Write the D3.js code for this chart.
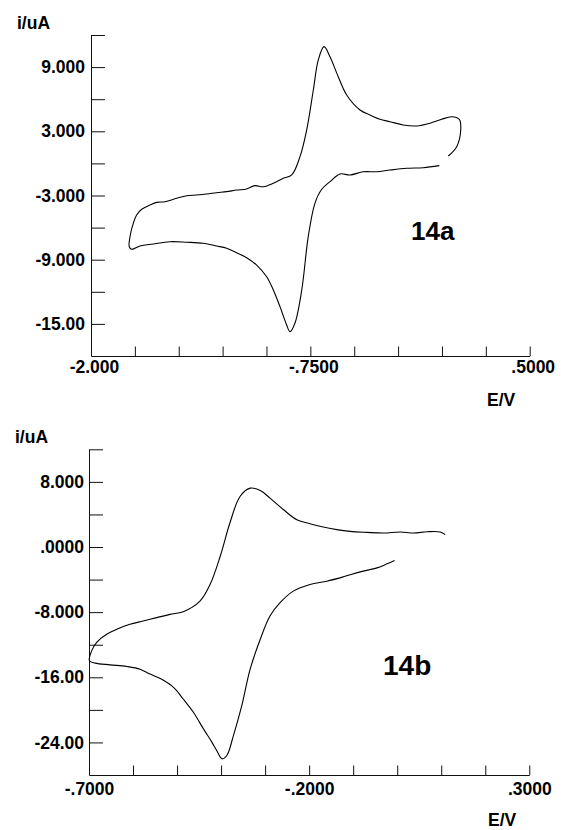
<!DOCTYPE html>
<html>
<head>
<meta charset="utf-8">
<script src="https://cdn.jsdelivr.net/npm/d3@7"></script>
<style>
  body { margin: 0; background: #fff; }
  svg text { font-family: "Liberation Sans", Arial, sans-serif; font-weight: bold; fill: #000; }
</style>
</head>
<body>
<svg id="chart" width="561" height="830"></svg>
<script>
// ---- 14a : potential (V) and current (uA), traced in scan order
var potentialA = [0.036, 0.084, 0.107, 0.099, 0.055, -0.002, -0.068, -0.144, -0.221, -0.296,
  -0.353, -0.410, -0.467, -0.543, -0.591, -0.638, -0.672, -0.705, -0.733, -0.771,
  -0.809, -0.856, -0.904, -0.961, -1.018, -1.066, -1.113, -1.170, -1.227, -1.284,
  -1.341, -1.398, -1.455, -1.512, -1.578, -1.626, -1.664, -1.711, -1.740, -1.759,
  -1.774, -1.782, -1.768, -1.721, -1.645, -1.550, -1.455, -1.360, -1.284, -1.227,
  -1.170, -1.113, -1.056, -0.999, -0.961, -0.923, -0.885, -0.866, -0.838, -0.799,
  -0.762, -0.724, -0.685, -0.638, -0.581, -0.524, -0.448, -0.372, -0.296, -0.201,
  -0.107, -0.015];
var currentA = [0.69, 1.56, 3.12, 4.12, 4.36, 4.12, 3.75, 3.50, 3.59, 3.90,
  4.12, 4.52, 4.99, 6.39, 8.10, 9.97, 10.91, 9.66, 6.86, 3.12,
  0.63, -1.08, -1.39, -1.86, -2.18, -2.08, -2.39, -2.49, -2.64, -2.74,
  -2.86, -2.95, -3.02, -3.26, -3.58, -3.64, -3.89, -4.29, -4.82, -5.60,
  -6.53, -7.79, -8.03, -7.72, -7.53, -7.32, -7.37, -7.47, -7.72, -7.93,
  -8.35, -8.81, -9.50, -10.59, -11.83, -13.39, -15.10, -15.73, -14.94, -11.83,
  -6.85, -3.73, -2.42, -1.71, -0.99, -1.08, -0.78, -0.78, -0.62, -0.46,
  -0.40, -0.21];

// ---- 14b
var potentialB = [0.109, 0.098, 0.068, 0.037, 0.007, -0.031, -0.069, -0.107, -0.137, -0.168,
  -0.198, -0.228, -0.258, -0.289, -0.311, -0.334, -0.357, -0.380, -0.402, -0.425,
  -0.448, -0.486, -0.516, -0.546, -0.577, -0.607, -0.633, -0.660, -0.683, -0.694,
  -0.699, -0.686, -0.652, -0.614, -0.584, -0.561, -0.539, -0.508, -0.486, -0.463,
  -0.440, -0.421, -0.410, -0.398, -0.387, -0.372, -0.353, -0.334, -0.311, -0.289,
  -0.266, -0.236, -0.198, -0.160, -0.122, -0.084, -0.046, -0.023, -0.006];
var currentB = [1.52, 1.85, 1.88, 1.72, 1.85, 1.72, 1.80, 1.92, 2.13, 2.46,
  2.86, 3.35, 4.57, 6.01, 6.94, 7.23, 6.20, 2.95, -1.14, -4.60,
  -6.64, -7.94, -8.27, -8.67, -9.09, -9.49, -10.02, -10.72, -11.73, -12.76,
  -13.98, -14.26, -14.47, -14.67, -15.00, -15.61, -16.13, -17.24, -18.67, -20.29,
  -22.34, -23.96, -24.99, -26.01, -25.60, -23.16, -19.49, -15.00, -11.33, -8.48,
  -6.84, -5.42, -4.60, -4.20, -3.66, -3.05, -2.56, -2.07, -1.66];

// axis ticks and labels
var xTicksA = [-2, -1.75, -1.5, -1.25, -1, -0.75, -0.5, -0.25, 0, 0.25, 0.5];
var xLabelValsA = [-2, -0.75, 0.5];
var xLabelsA = ["-2.000", "-.7500", ".5000"];
var yTicksA = [12, 9, 6, 3, 0, -3, -6, -9, -12, -15];
var yLabelValsA = [9, 3, -3, -9, -15];
var yLabelsA = ["9.000", "3.000", "-3.000", "-9.000", "-15.00"];

var xTicksB = [-0.7, -0.6, -0.5, -0.4, -0.3, -0.2, -0.1, 0, 0.1, 0.2, 0.3];
var xLabelValsB = [-0.7, -0.2, 0.3];
var xLabelsB = ["-.7000", "-.2000", ".3000"];
var yTicksB = [12, 8, 4, 0, -4, -8, -12, -16, -20, -24];
var yLabelValsB = [8, 0, -8, -16, -24];
var yLabelsB = ["8.000", ".0000", "-8.000", "-16.00", "-24.00"];

var svg = d3.select("#chart");

function labelFor(vals, texts) {
  return function (d) {
    for (var i = 0; i < vals.length; i++) {
      if (Math.abs(vals[i] - d) < 1e-9) return texts[i];
    }
    return "";
  };
}

function drawPanel(p) {
  var x = d3.scaleLinear().domain(p.xDomain).range([p.left, p.right]);
  var y = d3.scaleLinear().domain(p.yDomain).range([p.bottom, p.top]);

  var yAxis = d3.axisLeft(y)
    .tickValues(p.yTicks)
    .tickSizeInner(-14)
    .tickSizeOuter(0)
    .tickPadding(p.yPad)
    .tickFormat(labelFor(p.yLabelVals, p.yLabels));

  var xAxis = d3.axisBottom(x)
    .tickValues(p.xTicks)
    .tickSizeInner(-9.5)
    .tickSizeOuter(0)
    .tickPadding(p.xPad)
    .tickFormat(labelFor(p.xLabelVals, p.xLabels));

  var gy = svg.append("g")
    .attr("transform", `translate(${p.left},0)`)
    .call(yAxis);
  var gx = svg.append("g")
    .attr("transform", `translate(0,${p.bottom})`)
    .call(xAxis);

  [gx, gy].forEach(function (g) {
    g.attr("font-family", null).attr("font-size", null);
    g.selectAll("path, line").attr("stroke", "#111").attr("stroke-width", 1);
    g.selectAll("text").style("font-size", "17.5px");
  });
  gx.selectAll("text").attr("dx", p.xLabelShift);

  var pts = d3.zip(p.potential, p.current);
  var line = d3.line()
    .x(d => x(d[0]))
    .y(d => y(d[1]))
    .curve(d3.curveCatmullRom.alpha(0.5));

  svg.append("path")
    .datum(pts)
    .attr("d", line)
    .attr("fill", "none")
    .attr("stroke", "#000")
    .attr("stroke-width", 1.1);

  svg.append("text").attr("x", p.yTitle[0]).attr("y", p.yTitle[1])
    .style("font-size", "17.5px").text("i/uA");
  svg.append("text").attr("x", p.xTitle[0]).attr("y", p.xTitle[1])
    .style("font-size", "17.5px").text("E/V");
  svg.append("text").attr("x", p.tag[0]).attr("y", p.tag[1])
    .style("font-size", p.tagSize + "px").text(p.tagText);
}

drawPanel({
  xDomain: [-2, 0.5], yDomain: [-18, 12],
  left: 91, right: 529.7, top: 35, bottom: 356,
  xTicks: xTicksA, xLabelVals: xLabelValsA, xLabels: xLabelsA, xLabelShift: 3,
  yTicks: yTicksA, yLabelVals: yLabelValsA, yLabels: yLabelsA,
  xPad: 5, yPad: 6,
  potential: potentialA, current: currentA,
  yTitle: [17, 29], xTitle: [487, 406],
  tag: [411, 240], tagSize: 26, tagText: "14a"
});

drawPanel({
  xDomain: [-0.7, 0.3], yDomain: [-28, 12],
  left: 89, right: 529.3, top: 449.3, bottom: 775,
  xTicks: xTicksB, xLabelVals: xLabelValsB, xLabels: xLabelsB, xLabelShift: 0,
  yTicks: yTicksB, yLabelVals: yLabelValsB, yLabels: yLabelsB,
  xPad: 8, yPad: 5,
  potential: potentialB, current: currentB,
  yTitle: [15, 442.7], xTitle: [488, 826],
  tag: [383, 675], tagSize: 28, tagText: "14b"
});
</script>
</body>
</html>
